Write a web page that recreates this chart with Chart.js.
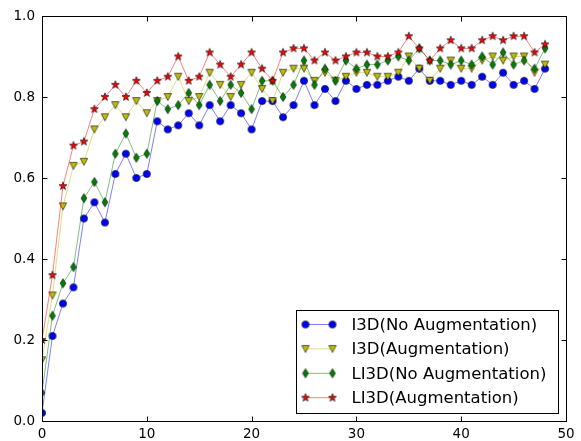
<!DOCTYPE html>
<html>
<head>
<meta charset="utf-8">
<script src="https://cdn.jsdelivr.net/npm/chart.js@4.4.1/dist/chart.umd.min.js"></script>
<style>
  html, body { margin: 0; padding: 0; background: #fff; }
</style>
</head>
<body>
<canvas id="myChart" width="581" height="441"></canvas>
<script>
// data
const epochs = [
  0, 1, 2, 3, 4, 5, 6, 7, 8, 9, 10, 11, 12, 13, 14, 15, 16, 17, 18, 19, 20, 21, 22, 23, 24,
  25, 26, 27, 28, 29, 30, 31, 32, 33, 34, 35, 36, 37, 38, 39, 40, 41, 42, 43, 44, 45, 46, 47, 48
]
const i3dNoAug = [
  0.02, 0.21, 0.29, 0.33, 0.50, 0.54, 0.49, 0.61, 0.66, 0.60, 0.61, 0.74, 0.72, 0.73, 0.76, 0.73, 0.78,
  0.74, 0.78, 0.76, 0.72, 0.79, 0.79, 0.75, 0.78, 0.84, 0.78, 0.82, 0.79, 0.84, 0.82, 0.83, 0.83,
  0.84, 0.85, 0.84, 0.87, 0.84, 0.84, 0.83, 0.84, 0.83, 0.85, 0.83, 0.86, 0.83, 0.84, 0.82, 0.87
]
const i3dAug = [
  0.15, 0.31, 0.53, 0.63, 0.64, 0.72, 0.75, 0.78, 0.75, 0.79, 0.76, 0.79, 0.80, 0.85, 0.79, 0.80, 0.86,
  0.83, 0.80, 0.83, 0.86, 0.82, 0.79, 0.86, 0.87, 0.87, 0.84, 0.86, 0.84, 0.85, 0.86, 0.86, 0.85,
  0.85, 0.86, 0.90, 0.87, 0.84, 0.87, 0.89, 0.87, 0.87, 0.89, 0.90, 0.89, 0.90, 0.90, 0.86, 0.88
]
const li3dNoAug = [
  0.07, 0.26, 0.34, 0.38, 0.55, 0.59, 0.54, 0.66, 0.71, 0.65, 0.66, 0.79, 0.77, 0.78, 0.81, 0.78, 0.83,
  0.79, 0.83, 0.81, 0.77, 0.84, 0.84, 0.80, 0.83, 0.89, 0.83, 0.87, 0.84, 0.89, 0.87, 0.88, 0.88,
  0.89, 0.90, 0.89, 0.92, 0.89, 0.89, 0.88, 0.89, 0.88, 0.90, 0.88, 0.91, 0.88, 0.89, 0.87, 0.92
]
const li3dAug = [
  0.20, 0.36, 0.58, 0.68, 0.69, 0.77, 0.80, 0.83, 0.80, 0.84, 0.81, 0.84, 0.85, 0.90, 0.84, 0.85, 0.91,
  0.88, 0.85, 0.88, 0.91, 0.87, 0.84, 0.91, 0.92, 0.92, 0.89, 0.91, 0.89, 0.90, 0.91, 0.91, 0.90,
  0.90, 0.91, 0.95, 0.92, 0.89, 0.92, 0.94, 0.92, 0.92, 0.94, 0.95, 0.94, 0.95, 0.95, 0.91, 0.93
]
const seriesLabels = ['I3D(No Augmentation)', 'I3D(Augmentation)', 'LI3D(No Augmentation)', 'LI3D(Augmentation)']
const xTicks = { min: 0, max: 50, step: 10 }
const yTicks = { min: 0, max: 1, step: 0.2 }

const FONT = 'DejaVu Sans'

// matplotlib-like markers drawn on small canvases
function makeMarker (kind, fill) {
  const c = document.createElement('canvas')
  c.width = 12
  c.height = 12
  const g = c.getContext('2d')
  const cx = 6
  const cy = 6
  g.beginPath()
  if (kind === 'circle') {
    g.arc(cx, cy, 3.6, 0, Math.PI * 2)
  } else if (kind === 'tri') {
    g.moveTo(cx - 3.7, cy - 3.4)
    g.lineTo(cx + 3.7, cy - 3.4)
    g.lineTo(cx, cy + 3.6)
  } else if (kind === 'diamond') {
    g.moveTo(cx, cy - 4.6)
    g.lineTo(cx + 2.9, cy)
    g.lineTo(cx, cy + 4.6)
    g.lineTo(cx - 2.9, cy)
  } else {
    for (let k = 0; k < 10; k++) {
      const r = k % 2 === 0 ? 4.2 : 1.7
      const a = -Math.PI / 2 + k * Math.PI / 5
      const px = cx + r * Math.cos(a)
      const py = cy + r * Math.sin(a)
      if (k === 0) g.moveTo(px, py)
      else g.lineTo(px, py)
    }
  }
  g.closePath()
  g.fillStyle = fill
  g.fill()
  g.lineWidth = 0.6
  g.strokeStyle = '#000'
  g.stroke()
  return c
}

const styles = [
  { line: 'rgba(0,0,255,0.5)', marker: makeMarker('circle', '#0000ff') },
  { line: 'rgba(191,191,0,0.5)', marker: makeMarker('tri', '#bfbf00') },
  { line: 'rgba(0,128,0,0.5)', marker: makeMarker('diamond', '#008000') },
  { line: 'rgba(255,0,0,0.5)', marker: makeMarker('star', '#ff0000') }
]
const allSeries = [i3dNoAug, i3dAug, li3dNoAug, li3dAug]

const datasets = allSeries.map((vals, i) => ({
  label: seriesLabels[i],
  data: vals.map((v, j) => ({ x: epochs[j], y: v })),
  borderColor: styles[i].line,
  borderWidth: 1,
  pointStyle: styles[i].marker,
  pointRadius: 4,
  tension: 0,
  order: allSeries.length - i
}))

// frame, inward ticks and the legend box
const decor = {
  id: 'decor',
  afterDraw (chart) {
    const { ctx, chartArea: a, scales } = chart
    ctx.save()
    ctx.strokeStyle = '#000'
    ctx.lineWidth = 1
    const L = Math.round(a.left) + 0.5
    const R = Math.round(a.right) + 0.5
    const T = Math.round(a.top) + 0.5
    const B = Math.round(a.bottom) + 0.5
    ctx.strokeRect(L, T, R - L, B - T)
    ctx.beginPath()
    scales.x.ticks.forEach(t => {
      const px = Math.round(scales.x.getPixelForValue(t.value)) + 0.5
      ctx.moveTo(px, B); ctx.lineTo(px, B - 5)
      ctx.moveTo(px, T); ctx.lineTo(px, T + 5)
    })
    scales.y.ticks.forEach(t => {
      const py = Math.round(scales.y.getPixelForValue(t.value)) + 0.5
      ctx.moveTo(L, py); ctx.lineTo(L + 5, py)
      ctx.moveTo(R, py); ctx.lineTo(R - 5, py)
    })
    ctx.stroke()

    // legend
    const bw = 262
    const bh = 103
    const bx = Math.round(a.right - 8 - bw) + 0.5
    const by = Math.round(a.bottom - 8 - bh) + 0.5
    ctx.fillStyle = '#fff'
    ctx.fillRect(bx, by, bw, bh)
    ctx.strokeRect(bx, by, bw, bh)
    ctx.font = '16.5px "' + FONT + '"'
    ctx.textBaseline = 'middle'
    ctx.textAlign = 'left'
    chart.data.datasets.forEach((ds, i) => {
      const ry = by + 14 + i * 24.4
      const x1 = bx + 9
      const x2 = bx + 36
      ctx.strokeStyle = ds.borderColor
      ctx.beginPath()
      ctx.moveTo(x1, ry); ctx.lineTo(x2, ry)
      ctx.stroke()
      const m = ds.pointStyle
      ctx.drawImage(m, x1 - m.width / 2, ry - m.height / 2)
      ctx.drawImage(m, x2 - m.width / 2, ry - m.height / 2)
      ctx.fillStyle = '#000'
      ctx.fillText(ds.label, bx + 55, ry + 1)
    })
    ctx.restore()
  }
}

const tickFont = { family: FONT, size: 13.5 }

// eslint-disable-next-line no-unused-vars
const myChart = new Chart(document.getElementById('myChart'), {
  type: 'line',
  data: { datasets },
  options: {
    responsive: false,
    animation: false,
    layout: { padding: { left: 0, right: 15, top: 16, bottom: 0 } },
    plugins: {
      legend: { display: false },
      tooltip: { enabled: false }
    },
    scales: {
      x: {
        type: 'linear',
        min: xTicks.min,
        max: xTicks.max,
        ticks: { stepSize: xTicks.step, padding: 5, color: '#000', font: tickFont, maxRotation: 0 },
        grid: { display: false, drawTicks: false },
        border: { display: false },
        afterFit: s => { s.height = 20 }
      },
      y: {
        min: yTicks.min,
        max: yTicks.max,
        ticks: { stepSize: yTicks.step, padding: 7, color: '#000', font: tickFont, callback: v => v.toFixed(1) },
        grid: { display: false, drawTicks: false },
        border: { display: false },
        afterFit: s => { s.width = 42 }
      }
    }
  },
  plugins: [decor]
})
</script>
</body>
</html>
